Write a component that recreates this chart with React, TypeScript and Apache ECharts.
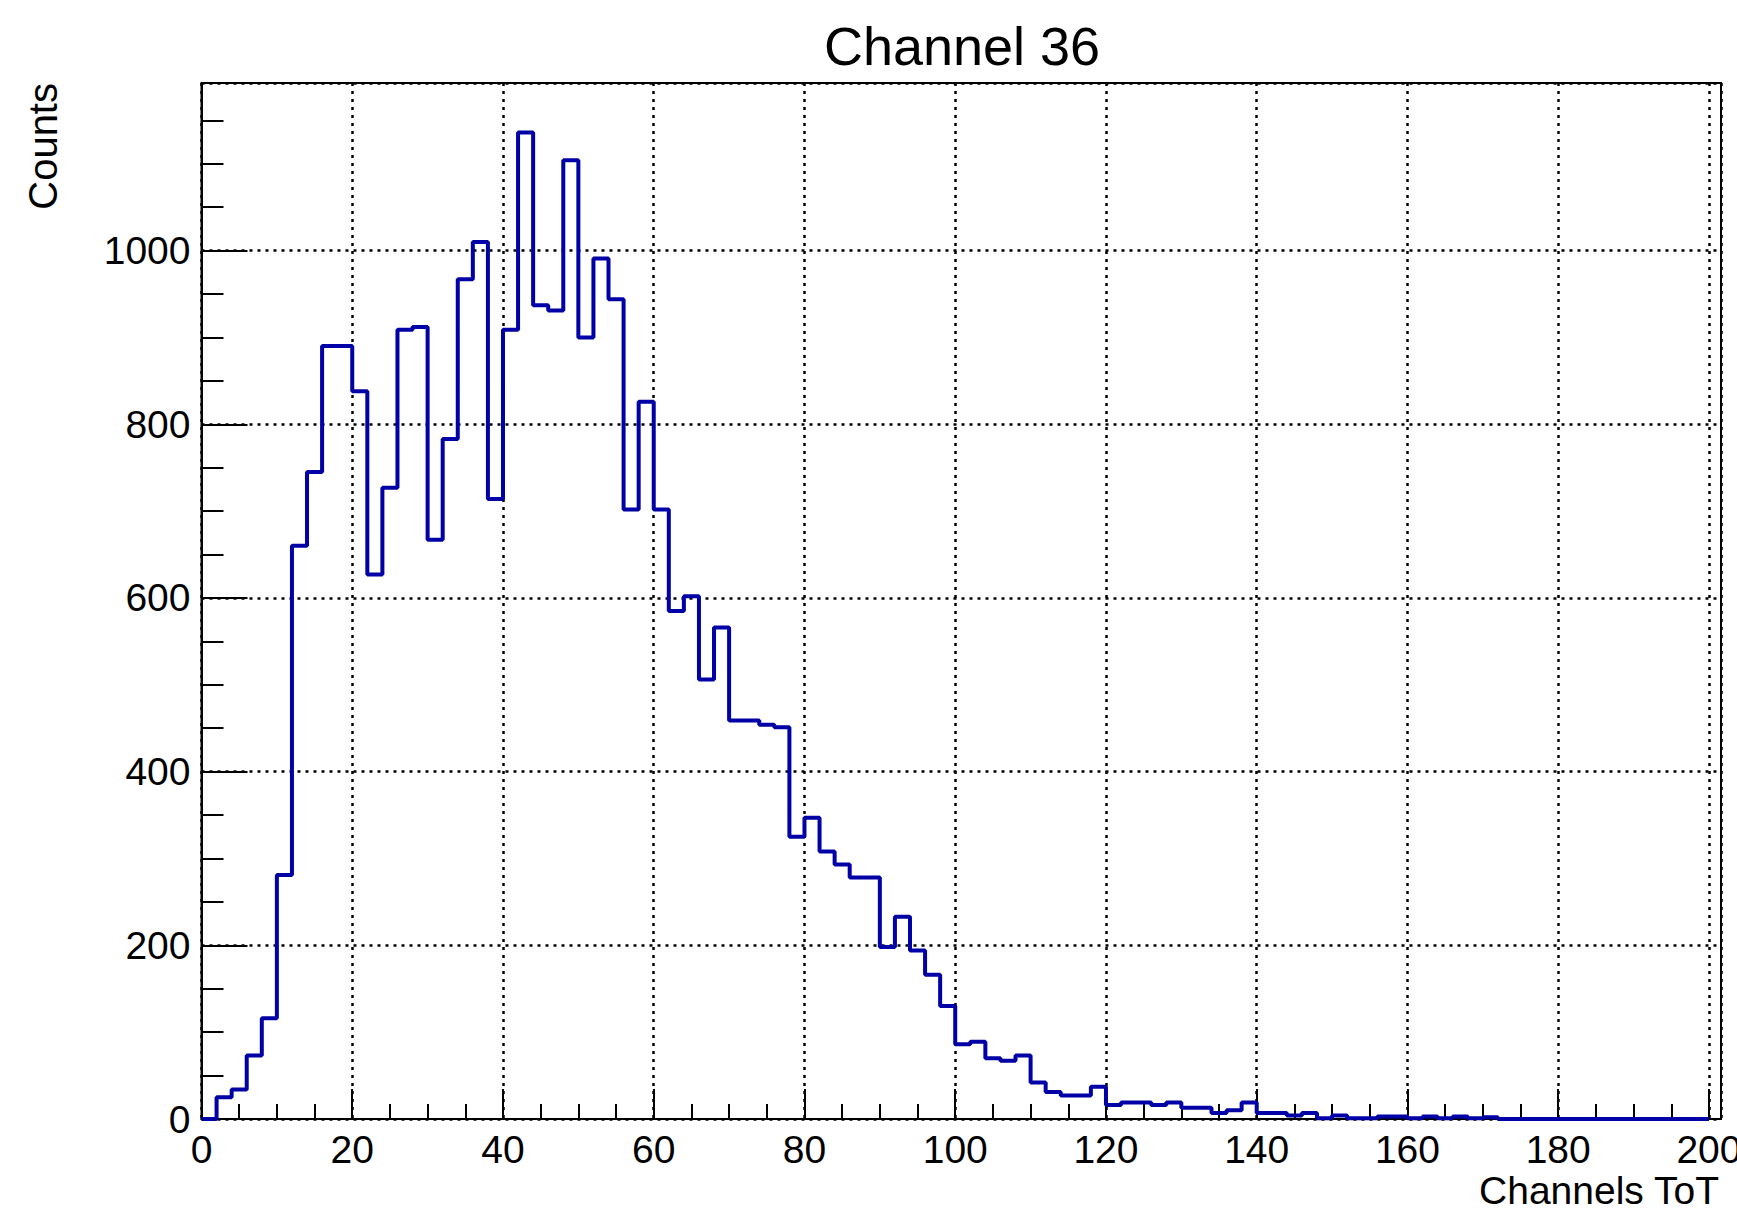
import React, { useEffect, useRef } from "react";
import * as echarts from "echarts";

// Histogram: bins of width 2 starting at 0 (lower edges 0, 2, 4, ... 198)
const BIN_START = 0;
const BIN_WIDTH = 2;
const COUNTS = [
  0, 25, 34, 73, 116, 281, 660, 745, 890, 890,
  838, 627, 727, 909, 912, 667, 783, 967, 1010, 714,
  909, 1136, 937, 931, 1104, 900, 991, 944, 702, 826,
  702, 585, 602, 506, 566, 459, 459, 454, 451, 325,
  347, 308, 293, 278, 278, 198, 233, 194, 166, 130,
  86, 89, 70, 67, 73, 42, 31, 27, 27, 37,
  16, 19, 19, 16, 19, 13, 13, 7, 10, 19,
  7, 7, 4, 7, 1, 4, 1, 1, 3, 3,
  1, 3, 1, 3, 1, 2, 0, 0, 0, 0,
  0, 0, 0, 0, 0, 0, 0, 0, 0, 0,
];

const X_MIN = 0;
const X_MAX = 201.6;
const Y_MIN = 0;
const Y_MAX = 1193;
const X_MAJOR = 20;
const X_MINOR = 5;
const Y_MAJOR = 200;
const Y_MINOR = 50;

const TITLE = "Channel 36";
const X_TITLE = "Channels ToT";
const Y_TITLE = "Counts";

const FONT = "'Liberation Sans', Arial, Helvetica, sans-serif";

export default function App() {
  const ref = useRef<HTMLDivElement>(null);

  useEffect(() => {
    if (!ref.current) return;
    const chart = echarts.init(ref.current, null, { renderer: "svg" });

    const points: number[][] = COUNTS.map((c, i) => [BIN_START + i * BIN_WIDTH, c]);
    points.push([BIN_START + COUNTS.length * BIN_WIDTH, COUNTS[COUNTS.length - 1]]);

    const gridLeft = 201.5;
    const gridTop = 83;
    const gridRight = 1721;
    const gridBottom = 1119;

    const dotted = { color: "#000", width: 2.5, type: [3, 5] as any };
    const plain = (v: number) => String(Math.round(v));

    const option: any = {
      animation: false,
      backgroundColor: "#fff",
      textStyle: { fontFamily: FONT },
      grid: {
        left: gridLeft,
        top: gridTop,
        width: gridRight - gridLeft,
        height: gridBottom - gridTop,
        show: true,
        borderColor: "#000",
        borderWidth: 2,
        backgroundColor: "transparent",
        containLabel: false,
        outerBoundsMode: "none",
      },
      xAxis: [
        {
          type: "value",
          min: X_MIN,
          max: X_MAX,
          interval: X_MAJOR,
          position: "bottom",
          axisLine: { show: true, onZero: false, lineStyle: { color: "#000", width: 2 } },
          axisTick: { show: true, inside: true, length: 30, lineStyle: { color: "#000", width: 2 } },
          axisLabel: {
            show: true,
            showMaxLabel: false,
            margin: 11,
            fontSize: 39,
            fontFamily: FONT,
            color: "#000",
            formatter: plain,
          },
          splitLine: { show: true, lineStyle: dotted },
        },
        {
          type: "value",
          min: X_MIN,
          max: X_MAX,
          interval: X_MINOR,
          position: "bottom",
          offset: 0,
          axisLine: { show: false, onZero: false },
          axisTick: { show: true, inside: true, length: 15, lineStyle: { color: "#000", width: 2 } },
          axisLabel: { show: false },
          splitLine: { show: false },
        },
      ],
      yAxis: [
        {
          type: "value",
          min: Y_MIN,
          max: Y_MAX,
          interval: Y_MAJOR,
          position: "left",
          axisLine: { show: true, onZero: false, lineStyle: { color: "#000", width: 2 } },
          axisTick: { show: true, inside: true, length: 46, lineStyle: { color: "#000", width: 2 } },
          axisLabel: {
            show: true,
            showMaxLabel: false,
            margin: 11,
            fontSize: 39,
            fontFamily: FONT,
            color: "#000",
            formatter: plain,
          },
          splitLine: { show: true, lineStyle: dotted },
        },
        {
          type: "value",
          min: Y_MIN,
          max: Y_MAX,
          interval: Y_MINOR,
          position: "left",
          offset: 0,
          axisLine: { show: false, onZero: false },
          axisTick: { show: true, inside: true, length: 22, lineStyle: { color: "#000", width: 2 } },
          axisLabel: { show: false },
          splitLine: { show: false },
        },
      ],
      series: [
        {
          type: "line",
          xAxisIndex: 0,
          yAxisIndex: 0,
          data: points,
          step: "end",
          symbol: "none",
          showSymbol: false,
          lineStyle: { color: "#0000a6", width: 4 },
          itemStyle: { color: "#0000a6" },
          z: 3,
          clip: true,
        },
      ],
      graphic: [
        {
          type: "text",
          x: 962,
          y: 46,
          style: {
            text: TITLE,
            fontSize: 54,
            fontFamily: FONT,
            fill: "#000",
            align: "center",
            verticalAlign: "middle",
          },
        },
        {
          type: "text",
          x: 1719,
          y: 1190,
          style: {
            text: X_TITLE,
            fontSize: 39,
            fontFamily: FONT,
            fill: "#000",
            align: "right",
            verticalAlign: "middle",
          },
        },
        {
          type: "text",
          x: 43,
          y: 83,
          rotation: Math.PI / 2,
          style: {
            text: Y_TITLE,
            fontSize: 40,
            fontFamily: FONT,
            fill: "#000",
            align: "right",
            verticalAlign: "middle",
          },
        },
      ],
    };

    chart.setOption(option);
    return () => chart.dispose();
  }, []);

  return (
    <div
      ref={ref}
      style={{ position: "fixed", left: 0, top: 0, width: 1737, height: 1211, background: "#fff" }}
    />
  );
}
